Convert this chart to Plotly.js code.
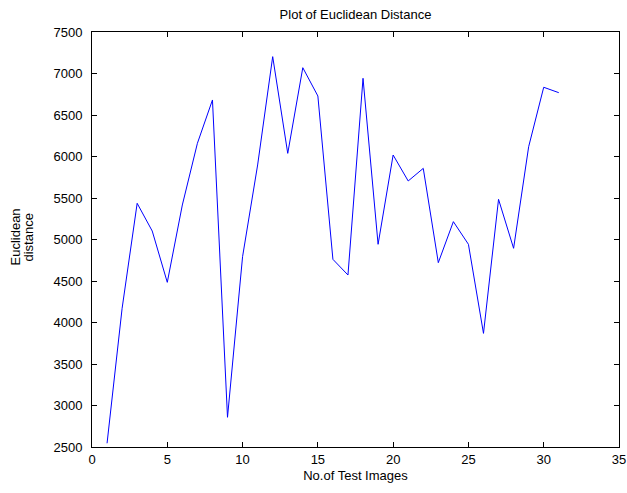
<!DOCTYPE html>
<html>
<head>
<meta charset="utf-8">
<script src="https://cdn.plot.ly/plotly-3.0.1.min.js"></script>
<style>html,body{margin:0;padding:0;background:#fff;}#chart{width:627px;height:493px;}</style>
</head>
<body>
<div id="chart"></div>
<script>
const testImages = [1,2,3,4,5,6,7,8,9,10,11,12,13,14,15,16,17,18,19,20,21,22,23,24,25,26,27,28,29,30,31];
const euclideanDistance = [2545,4171,5436,5102,4484,5416,6159,6681,2858,4793,5898,7203,6038,7070,6729,4761,4572,6942,4942,6018,5705,5857,4721,5215,4942,3869,5484,4894,6118,6834,6769];
const xTicks = [0,5,10,15,20,25,30,35];
const yTicks = [2500,3000,3500,4000,4500,5000,5500,6000,6500,7000,7500];
const yTitleLines = ['Euclidean', 'distance'];

const font = {family: 'Liberation Sans, Arial, sans-serif', size: 13, color: '#000'};

const trace = {
  x: testImages,
  y: euclideanDistance,
  type: 'scatter',
  mode: 'lines',
  line: {color: '#0000ff', width: 1}
};

const axisCommon = {
  showline: true, linecolor: '#000', linewidth: 1, mirror: 'ticks',
  ticks: 'inside', ticklen: 5, tickcolor: '#000', tickwidth: 1,
  showgrid: false, zeroline: false, tickfont: font
};

const layout = {
  width: 627, height: 493,
  margin: {l: 92, r: 8, t: 32, b: 46},
  paper_bgcolor: '#fff', plot_bgcolor: '#fff',
  font: font,
  showlegend: false,
  title: {text: 'Plot of Euclidean Distance', font: font, x: 0.5, xanchor: 'center', xref: 'paper', y: 1, yref: 'container', yanchor: 'top', pad: {t: 10}},
  xaxis: Object.assign({}, axisCommon, {
    range: [0, 35], tickvals: xTicks, ticktext: xTicks.map(String),
    title: {text: 'No.of Test Images', font: font, standoff: 5}
  }),
  yaxis: Object.assign({}, axisCommon, {
    range: [2500, 7500], tickvals: yTicks, ticktext: yTicks.map(String),
    ticklabelstandoff: 6
  }),
  annotations: yTitleLines.map((t, i) => ({
    text: t, font: font, textangle: -90,
    xref: 'paper', yref: 'paper', x: 0, y: 0.5, xanchor: 'center', yanchor: 'middle',
    xshift: -77 + i * 13, yshift: 2, showarrow: false
  }))
};

Plotly.newPlot('chart', [trace], layout, {displayModeBar: false, staticPlot: true});
</script>
</body>
</html>
